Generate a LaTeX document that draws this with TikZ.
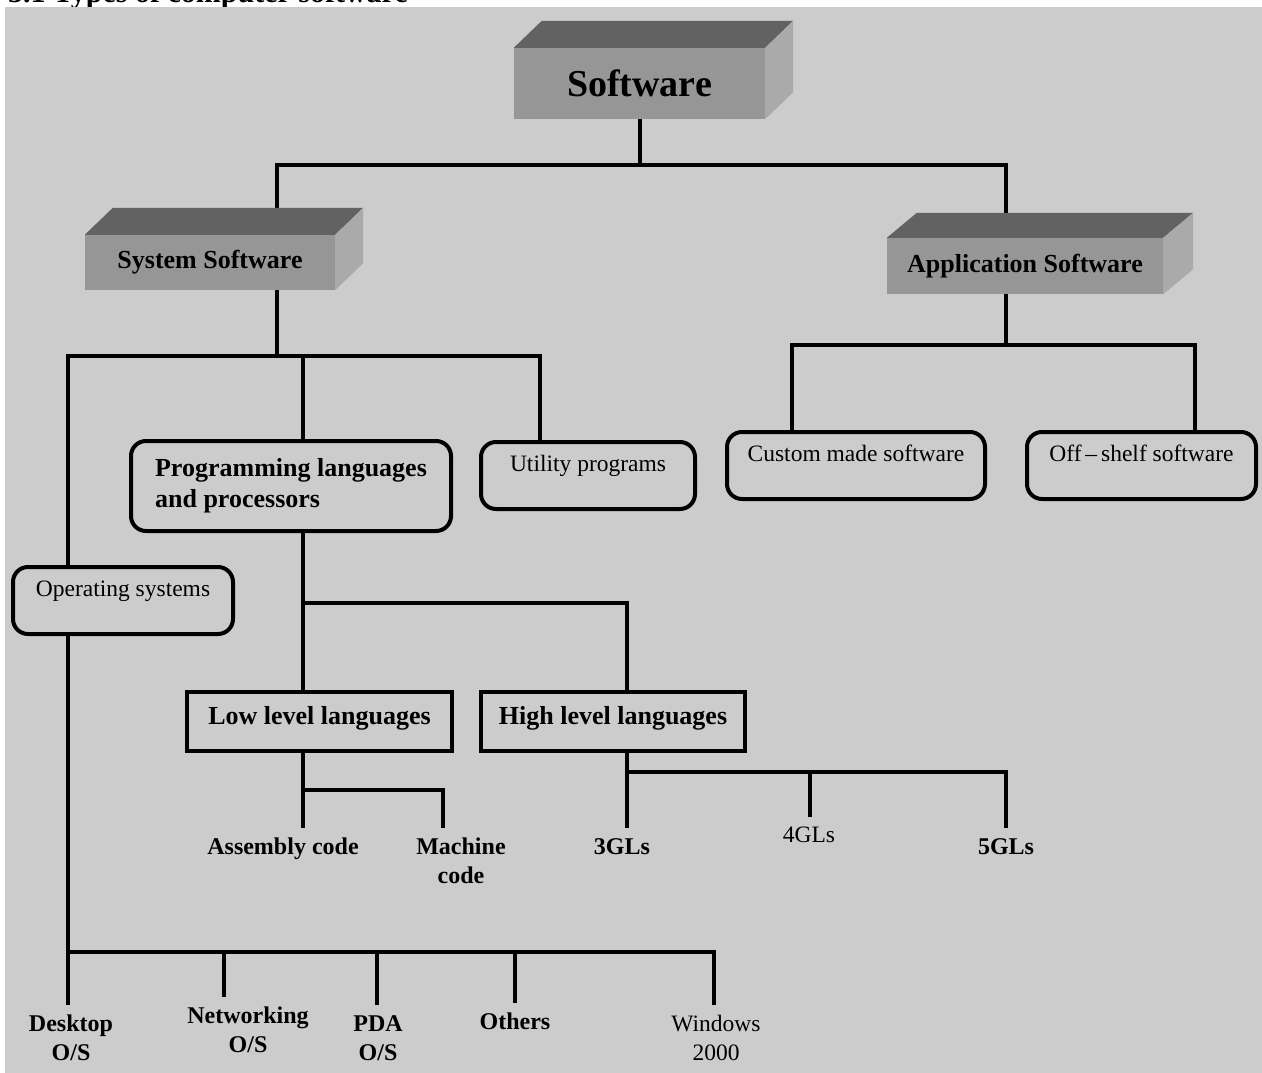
\documentclass[tikz,border=0pt]{standalone}
\usepackage{fontspec}
\setmainfont{Liberation Serif}
\usetikzlibrary{calc}

\pgfdeclarelayer{paper}
\pgfdeclarelayer{wires}
\pgfsetlayers{paper,wires,main}

\definecolor{sheetgray}{HTML}{CCCCCC}
\definecolor{slabfront}{HTML}{969696}
\definecolor{slabtopc}{HTML}{626262}
\definecolor{slabsidec}{HTML}{AAAAAA}

\tikzset{
  slab/.style={fill=slabfront, inner sep=0pt, font=\fontsize{26}{30}\selectfont\bfseries},
  slabtop/.style={fill=slabtopc},
  slabside/.style={fill=slabsidec},
  roundbox/.style={draw, line width=4pt, rounded corners=15pt, fill=sheetgray, inner sep=0pt,
    text height=29pt, text depth=38pt, font=\fontsize{23.5}{28}\selectfont},
  progbox/.style={draw, line width=4pt, rounded corners=15pt, fill=sheetgray, inner sep=0pt,
    align=left, font=\fontsize{26}{31}\selectfont\bfseries},
  levelbox/.style={draw, line width=4pt, fill=sheetgray, inner sep=0pt,
    text height=32pt, text depth=27pt, font=\fontsize{26}{30}\selectfont\bfseries},
  leaf/.style={anchor=north, align=center, inner xsep=0pt, inner ysep=10pt,
    font=\fontsize{24}{29}\selectfont\bfseries},
  plainleaf/.style={leaf, font=\fontsize{23.5}{29}\selectfont},
  wire/.style={line width=4pt},
}

\newcommand{\slabfaces}[3]{%
  \fill[slabtop] (#1.north west) -- ++(#2,-#3) -- ($(#1.north east)+(#2,-#3)$) -- (#1.north east) -- cycle;
  \fill[slabside] (#1.north east) -- ++(#2,-#3) -- ($(#1.south east)+(#2,-#3)$) -- (#1.south east) -- cycle;
}

\begin{document}
\begin{tikzpicture}[x=1pt, y=-1pt]

  \useasboundingbox (0,0) rectangle (1262,1073);

  \begin{pgfonlayer}{paper}
    \node (title) [anchor=base west, inner sep=0pt, font=\fontsize{30}{36}\selectfont\bfseries] at (8,3) {3.1 Types of computer software};
    \fill[sheetgray] (5,7) rectangle (1262,1073);
  \end{pgfonlayer}

  \node (soft) [slab, minimum width=251pt, minimum height=71pt, font=\fontsize{38}{44}\selectfont\bfseries] at (639.5,83.5) {Software};
  \node (sys) [slab, minimum width=250pt, minimum height=55pt] at (210,262.5) {System Software};
  \node (app) [slab, minimum width=276pt, minimum height=56pt] at (1025,266) {Application Software};
  \slabfaces{soft}{28}{27}
  \slabfaces{sys}{28}{27}
  \slabfaces{app}{30}{25}

  \node (prog) [progbox, minimum width=320pt, minimum height=90pt] at (291,486) {Programming languages\\and processors};
  \node (util) [roundbox, minimum width=214pt, minimum height=67pt] at (588,475.5) {Utility programs};
  \node (cust) [roundbox, minimum width=258pt, minimum height=67pt] at (856,465.5) {Custom made software};
  \node (off) [roundbox, minimum width=229pt, minimum height=67pt] at (1141.5,465.5) {Off\,–\,shelf software};
  \node (os) [roundbox, minimum width=220pt, minimum height=67pt] at (123,600.5) {Operating systems};

  \node (low) [levelbox, minimum width=265pt, minimum height=59pt] at (319.5,721.5) {Low level languages};
  \node (high) [levelbox, minimum width=264pt, minimum height=59pt] at (613,721.5) {High level languages};

  \node (asm) [leaf] at (283,828) {Assembly code};
  \node (mach) [leaf] at (461,828) {Machine\\code};
  \node (gl3) [leaf] at (622,828) {3GLs};
  \node (gl4) [plainleaf] at (809,817) {4GLs};
  \node (gl5) [leaf] at (1006,828) {5GLs};

  \node (desk) [leaf] at (71,1005) {Desktop\\O/S};
  \node (net) [leaf] at (248,997) {Networking\\O/S};
  \node (pda) [leaf] at (378,1005) {PDA\\O/S};
  \node (oth) [leaf] at (515,1003) {Others};
  \node (win) [plainleaf] at (716,1005) {Windows\\2000};

  \coordinate (rootL) at (277,165);
  \coordinate (rootR) at (1006,165);
  \coordinate (sysL) at (68,356);
  \coordinate (sysM) at (303,356);
  \coordinate (sysR) at (540,356);
  \coordinate (appL) at (792,345);
  \coordinate (appR) at (1195,345);
  \coordinate (progL) at (303,603);
  \coordinate (progR) at (627,603);
  \coordinate (lowL) at (303,790);
  \coordinate (lowR) at (443,790);
  \coordinate (highL) at (627,772);
  \coordinate (highM) at (810,772);
  \coordinate (highR) at (1006,772);
  \coordinate (osA) at (68,952);
  \coordinate (osB) at (224,952);
  \coordinate (osC) at (377,952);
  \coordinate (osD) at (515,952);
  \coordinate (osE) at (714,952);

  \begin{pgfonlayer}{wires}
    \draw[wire] (soft) -- (soft |- rootL);
    \draw[wire] (sys.center -| rootL) |- (rootR) -- (rootR |- app.center);
    \draw[wire] (sys.center -| rootL) -- (rootL |- sysL);
    \draw[wire] (app.center -| rootR) -- (rootR |- appL);

    \draw[wire] (os.center -| sysL) -- (sysL) -- (sysR) -- (sysR |- util.center);
    \draw[wire] (sysM) -- (sysM |- prog.center);
    \draw[wire] (cust.center -| appL) -- (appL) -- (appR) -- (appR |- off.center);

    \draw[wire] (prog.center -| progL) -- (progL) -- (progR) -- (progR |- high.center);
    \draw[wire] (progL) -- (progL |- low.center);

    \draw[wire] (low.center -| lowL) -- (lowL |- asm.north);
    \draw[wire] (lowL) -- (lowR) -- (lowR |- mach.north);
    \draw[wire] (high.center -| highL) -- (highL |- gl3.north);
    \draw[wire] (highL) -- (highR) -- (highR |- gl5.north);
    \draw[wire] (highM) -- (highM |- gl4.north);

    \draw[wire] (os.center -| osA) -- (osA) -- (osE) -- (osE |- win.north);
    \draw[wire] (osA) -- (osA |- desk.north);
    \draw[wire] (osB) -- (osB |- net.north);
    \draw[wire] (osC) -- (osC |- pda.north);
    \draw[wire] (osD) -- (osD |- oth.north);
  \end{pgfonlayer}

\end{tikzpicture}
\end{document}
